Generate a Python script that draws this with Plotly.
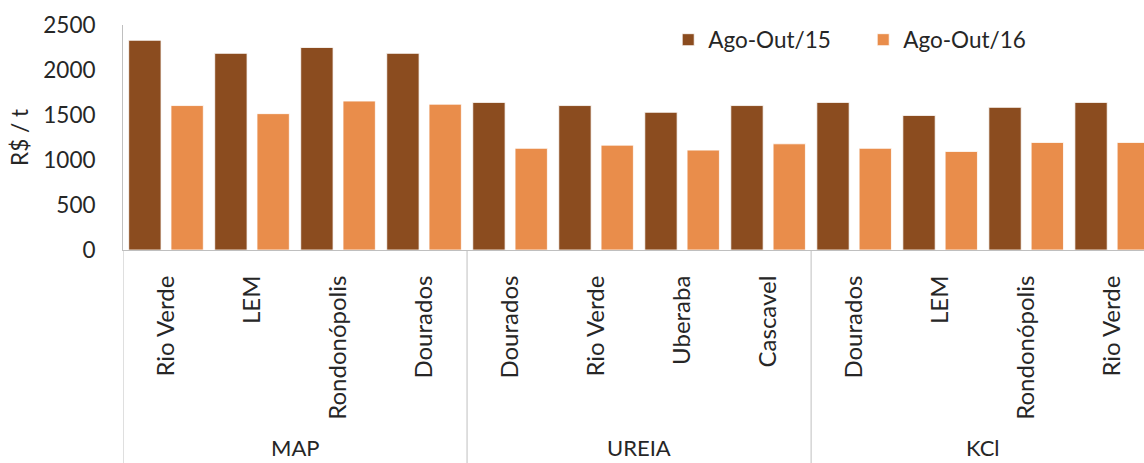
import plotly.graph_objects as go

groups = ["MAP"] * 4 + ["UREIA"] * 4 + ["KCl"] * 4
cities = ["Rio Verde", "LEM", "Rondonópolis", "Dourados",
          "Dourados", "Rio Verde", "Uberaba", "Cascavel",
          "Dourados", "LEM", "Rondonópolis", "Rio Verde"]
ago_out_15 = [2330, 2185, 2250, 2185, 1640, 1605, 1530, 1605, 1640, 1495, 1585, 1640]
ago_out_16 = [1605, 1515, 1655, 1620, 1130, 1165, 1110, 1180, 1130, 1095, 1195, 1195]
series_names = ["Ago-Out/15", "Ago-Out/16"]
y_ticks = [0, 500, 1000, 1500, 2000, 2500]

DARK = "#8B4C1F"
LIGHT = "#E98D4B"
TEXT = "#262626"
AXIS = "#BFBFBF"
FONT = "Lato"

keys = [f"{g}|{c}" for g, c in zip(groups, cities)]

fig = go.Figure()
for name, vals, col in [(series_names[0], ago_out_15, DARK), (series_names[1], ago_out_16, LIGHT)]:
    fig.add_trace(go.Bar(
        x=keys, y=vals, name=name,
        marker=dict(color=col, line=dict(color="white", width=0.8)),
    ))

# group spans (index based) for labels and dividers
group_order = []
for g in groups:
    if g not in group_order:
        group_order.append(g)
spans = []
for g in group_order:
    idx = [i for i, gg in enumerate(groups) if gg == g]
    spans.append((g, min(idx), max(idx)))

Y_BOTTOM = -0.95
annotations = []
shapes = []
for g, i0, i1 in spans:
    annotations.append(dict(
        x=(i0 + i1) / 2, xref="x", y=-0.876, yref="paper",
        text=g, showarrow=False, xanchor="center", yanchor="middle",
        font=dict(family=FONT, size=22, color=TEXT),
    ))
    shapes.append(dict(
        type="line", xref="x", yref="paper", x0=i0 - 0.5, x1=i0 - 0.5,
        y0=0, y1=Y_BOTTOM, line=dict(color=AXIS, width=1),
    ))

fig.update_layout(
    width=1144, height=463,
    margin=dict(l=123, r=0, t=25, b=213),
    paper_bgcolor="white", plot_bgcolor="white",
    font=dict(family=FONT, size=22.5, color=TEXT),
    barmode="group", bargap=0.017, bargroupgap=0.235,
    showlegend=True,
    legend=dict(orientation="h", x=0.534, y=0.933, xanchor="left", yanchor="middle",
                font=dict(size=22.5, color=TEXT), bgcolor="rgba(0,0,0,0)",
                itemwidth=30, entrywidth=150, entrywidthmode="pixels"),
    annotations=annotations,
    shapes=shapes,
)
fig.update_xaxes(
    type="category", range=[-0.5, 11.37],
    tickvals=keys, ticktext=cities,
    tickangle=-90, ticks="", ticklabelstandoff=15,
    showline=True, linecolor=AXIS, linewidth=1,
    tickfont=dict(size=24, color=TEXT), showgrid=False, zeroline=False,
)
fig.update_yaxes(
    range=[0, 2500], tickvals=y_ticks,
    showline=True, linecolor=AXIS, linewidth=1, showgrid=False, zeroline=False,
    ticks="", ticklabelstandoff=22, tickfont=dict(size=22.5, color=TEXT),
    title=dict(text="R$ / t", font=dict(size=22.5, color=TEXT), standoff=8),
)

fig.write_html("out.html")
